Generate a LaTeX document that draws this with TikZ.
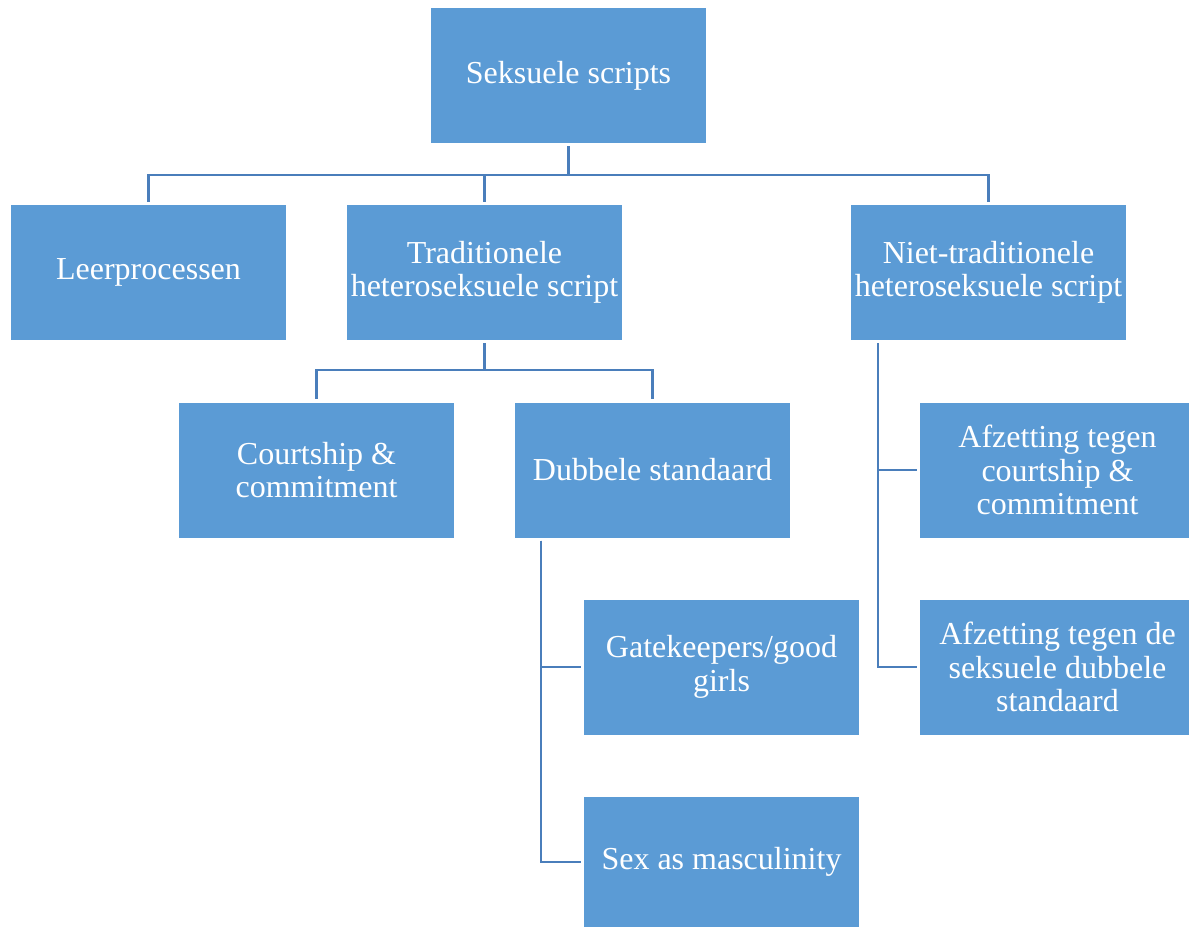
\documentclass[tikz,border=0pt]{standalone}
\usepackage{fontspec}
\setmainfont{Liberation Serif}
\definecolor{boxblue}{HTML}{5B9BD5}
\definecolor{lineblue}{HTML}{4A7EBB}
\begin{document}
\begin{tikzpicture}[x=1pt,y=-1pt,
  box/.style={fill=boxblue, draw=none, minimum width=275pt, minimum height=135pt,
    text=white, align=center, inner sep=0pt,
    font=\fontsize{32pt}{33.5pt}\selectfont},
  conn/.style={draw=lineblue, line width=2.4pt, shorten <=3pt, shorten >=3pt}]
\useasboundingbox (0,0) rectangle (1189,927);
\node[box] (top) at (568.5,75.5) {Seksuele scripts};
\node[box] (leer) at (148.5,272.5) {Leerprocessen};
\node[box] (trad) at (484.5,272.5) {Traditionele\\heteroseksuele script};
\node[box] (niet) at (988.5,272.5) {Niet-traditionele\\heteroseksuele script};
\node[box] (court) at (316.5,470) {Courtship \&\\commitment};
\node[box] (dub) at (652.5,470) {Dubbele standaard};
\node[box] (afz1) at (1057.5,470) {Afzetting tegen\\courtship \&\\commitment};
\node[box] (gate) at (721.5,667) {Gatekeepers/good\\girls};
\node[box] (afz2) at (1057.5,667) {Afzetting tegen de\\seksuele dubbele\\standaard};
\node[box, minimum height=130pt] (sex) at (721.5,862) {Sex as masculinity};
% top level
\draw[conn, shorten >=0pt] (top.south) -- ++(0,32) coordinate (j1);
\draw[conn, shorten <=0pt] (j1) -| (leer.north);
\draw[conn, shorten <=0pt] (j1) -| (trad.north);
\draw[conn, shorten <=0pt] (j1) -| (niet.north);
% traditionele
\draw[conn, shorten >=0pt] (trad.south) -- ++(0,30) coordinate (j2);
\draw[conn, shorten <=0pt] (j2) -| (court.north);
\draw[conn, shorten <=0pt] (j2) -| (dub.north);
% niet-traditionele
\draw[conn] ([xshift=27pt]niet.south west) |- (afz1.west);
\draw[conn] ([xshift=27pt]niet.south west) |- (afz2.west);
% dubbele standaard
\draw[conn] ([xshift=26pt]dub.south west) |- (gate.west);
\draw[conn] ([xshift=26pt]dub.south west) |- (sex.west);
\end{tikzpicture}
\end{document}
